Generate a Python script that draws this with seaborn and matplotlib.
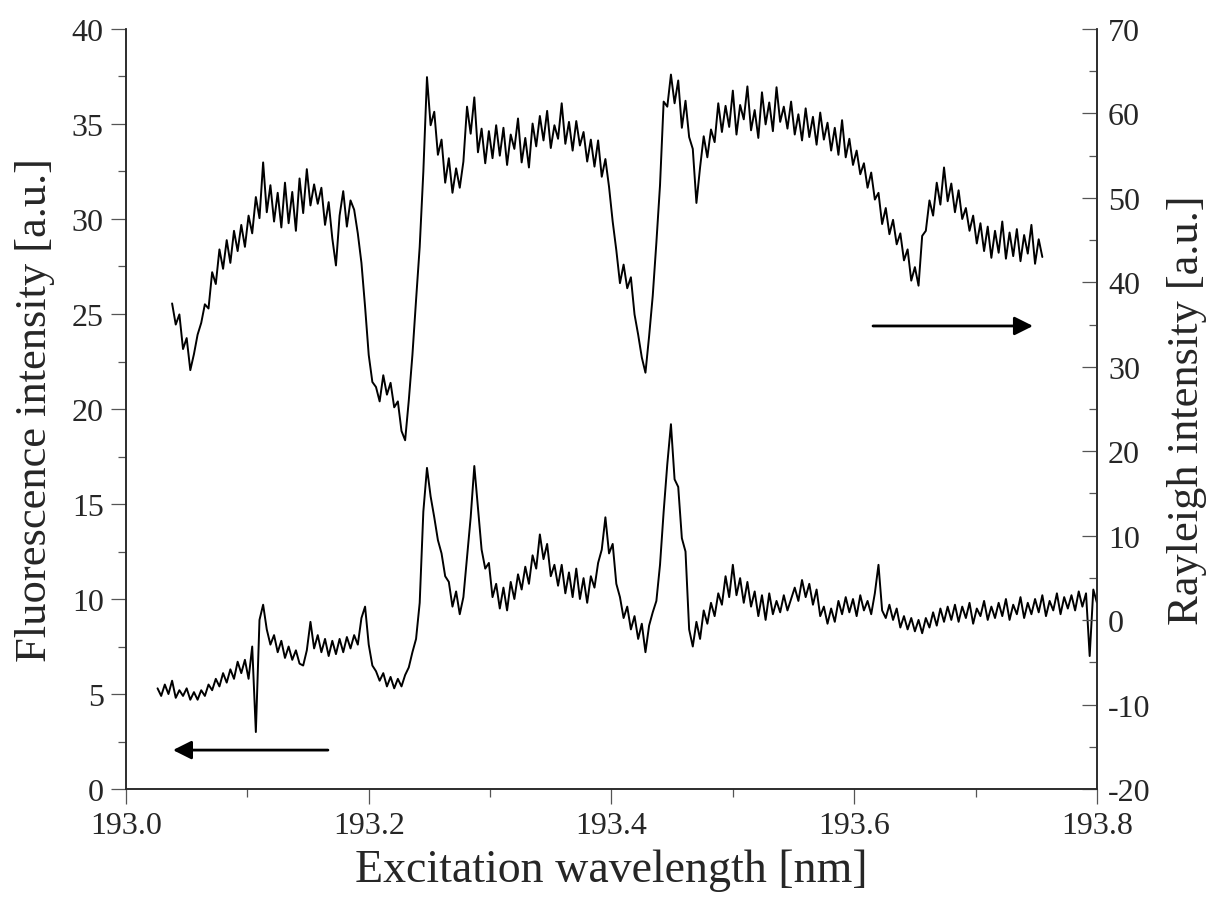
import numpy as np
import pandas as pd
import matplotlib
matplotlib.use("Agg")
import matplotlib.pyplot as plt
from matplotlib.ticker import MultipleLocator
import seaborn as sns

# ---------------- data ----------------
# Rayleigh signal (right axis), sampled every 0.003 nm from 193.038 nm
rayleigh_start = 193.038
rayleigh_step = 0.003
rayleigh = [
    37.5, 35.0, 36.2, 32.1, 33.4, 29.6, 31.5, 33.8, 35.2, 37.4,
    36.9, 41.2, 39.8, 43.9, 41.6, 45.0, 42.3, 46.1, 43.7, 46.8,
    44.2, 47.9, 45.8, 50.1, 47.6, 54.2, 48.3, 51.5, 47.2, 50.6,
    46.5, 51.8, 47.0, 50.7, 46.1, 52.3, 48.2, 53.4, 49.1, 51.6,
    49.3, 51.2, 46.8, 49.5, 45.2, 42.0, 47.9, 50.8, 46.6, 49.7,
    48.6, 45.8, 42.3, 37.1, 31.4, 28.2, 27.6, 25.9, 29.0, 26.7,
    28.1, 25.2, 25.9, 22.4, 21.3, 26.0, 31.4, 37.9, 44.2, 53.1,
    64.3, 58.6, 60.2, 55.1, 56.9, 51.8, 54.7, 50.6, 53.5, 51.2,
    54.3, 60.8, 57.6, 61.9, 55.4, 58.2, 54.1, 57.9, 54.7, 58.6,
    55.0, 58.3, 53.9, 57.5, 55.8, 59.4, 54.2, 57.1, 53.6, 58.8,
    56.1, 59.7, 56.8, 60.3, 55.9, 58.6, 57.0, 61.2, 56.4, 59.0,
    55.6, 59.1, 56.2, 57.8, 54.3, 56.9, 53.7, 56.8, 52.5, 54.6,
    51.3, 47.2, 43.8, 39.9, 42.1, 39.3, 40.6, 36.2, 33.8, 31.1,
    29.3, 33.6, 38.4, 44.7, 51.5, 61.4, 60.8, 64.6, 61.2, 63.9,
    58.3, 61.5, 57.2, 55.8, 49.4, 53.6, 57.3, 54.8, 58.1, 56.6,
    61.2, 57.8, 60.9, 58.4, 62.7, 57.5, 61.0, 59.3, 63.2, 58.0,
    60.4, 57.1, 62.5, 58.7, 61.3, 57.9, 63.1, 59.0, 60.8, 58.2,
    61.4, 57.5, 59.9, 56.8, 60.6, 57.2, 59.6, 56.3, 60.1, 56.9,
    58.9, 55.6, 58.3, 55.1, 59.2, 54.8, 57.0, 53.9, 55.6, 52.8,
    54.1, 51.2, 53.0, 49.8, 50.6, 46.9, 48.8, 45.7, 47.4, 44.5,
    45.8, 42.6, 43.9, 40.2, 41.8, 39.6, 45.5, 46.1, 49.7, 47.9,
    51.8, 49.2, 53.6, 49.6, 51.7, 48.3, 50.9, 47.5, 48.8, 46.1,
    47.9, 44.6, 47.0, 43.7, 46.6, 42.9, 46.1, 43.5, 47.2, 42.8,
    45.9, 43.1, 46.3, 42.5, 45.6, 43.4, 46.8, 42.2, 45.1, 43.0,
]

# Fluorescence signal (left axis), sampled every 0.003 nm from 193.026 nm
fluor_start = 193.026
fluor_step = 0.003
fluorescence = [
    5.3, 4.9, 5.5, 5.0, 5.7, 4.8, 5.2, 4.9, 5.3, 4.7,
    5.1, 4.7, 5.2, 4.9, 5.5, 5.2, 5.8, 5.4, 6.1, 5.6,
    6.3, 5.8, 6.7, 6.1, 6.8, 5.8, 7.5, 3.0, 8.9, 9.7,
    8.4, 7.6, 8.1, 7.2, 7.8, 6.9, 7.5, 6.8, 7.3, 6.6,
    6.5, 7.3, 8.8, 7.4, 8.1, 7.2, 7.9, 7.0, 7.8, 7.1,
    7.9, 7.2, 8.0, 7.4, 8.1, 7.6, 9.0, 9.6, 7.6, 6.5,
    6.2, 5.7, 6.1, 5.4, 5.9, 5.3, 5.8, 5.4, 6.0, 6.4,
    7.2, 7.9, 9.8, 14.6, 16.9, 15.4, 14.3, 13.1, 12.4, 11.2,
    10.9, 9.6, 10.4, 9.2, 10.1, 12.2, 14.3, 17.0, 14.8, 12.6,
    11.6, 11.9, 10.1, 10.8, 9.5, 10.6, 9.4, 10.9, 10.0, 11.3,
    10.5, 11.7, 10.8, 12.3, 11.6, 13.4, 12.1, 12.9, 11.2, 11.8,
    10.7, 11.8, 10.3, 11.4, 10.1, 11.6, 10.0, 11.1, 9.8, 11.2,
    10.6, 11.9, 12.6, 14.3, 12.4, 12.9, 10.8, 10.1, 9.0, 9.6,
    8.4, 9.1, 7.9, 8.7, 7.2, 8.6, 9.3, 9.9, 11.8, 14.6,
    17.1, 19.2, 16.3, 15.9, 13.2, 12.5, 8.4, 7.5, 8.8, 7.9,
    9.4, 8.7, 9.8, 9.1, 10.3, 9.7, 11.2, 10.1, 11.8, 10.2,
    11.1, 9.8, 10.9, 9.6, 10.4, 9.1, 10.2, 8.9, 10.3, 9.2,
    9.9, 9.3, 10.2, 9.4, 10.0, 10.6, 9.9, 11.0, 10.1, 10.8,
    9.7, 10.5, 9.1, 9.6, 8.7, 9.5, 8.8, 9.9, 9.2, 10.1,
    9.3, 10.0, 9.1, 10.2, 9.4, 9.9, 9.2, 10.3, 11.8, 9.4,
    9.0, 9.7, 8.9, 9.5, 8.5, 9.1, 8.4, 9.0, 8.3, 8.9,
    8.2, 9.0, 8.5, 9.3, 8.6, 9.5, 8.8, 9.6, 8.9, 9.7,
    8.8, 9.6, 9.0, 9.8, 8.7, 9.5, 9.1, 9.9, 8.9, 9.6,
    9.0, 9.8, 9.1, 10.0, 8.9, 9.7, 9.2, 10.1, 9.0, 9.8,
    9.2, 10.0, 9.3, 10.2, 9.1, 9.9, 9.4, 10.3, 9.2, 10.1,
    9.5, 10.2, 9.4, 10.4, 9.6, 10.3, 7.0, 10.5, 9.8,
]

x_ticks = [193.0, 193.2, 193.4, 193.6, 193.8]
x_tick_labels = ["193.0", "193.2", "193.4", "193.6", "193.8"]
left_ticks = [0, 5, 10, 15, 20, 25, 30, 35, 40]
right_ticks = [-20, -10, 0, 10, 20, 30, 40, 50, 60, 70]

x_label = "Excitation wavelength [nm]"
left_label = "Fluorescence intensity [a.u.]"
right_label = "Rayleigh intensity [a.u.]"

# arrows (start, end) in data coordinates of the left axis
arrow_fluor = ((193.1664, 2.05), (193.0387, 2.05))
arrow_rayl = ((193.6155, 24.37), (193.7473, 24.37))

# ---------------- build frames ----------------
df_r = pd.DataFrame({
    "wl": np.linspace(rayleigh_start,
                      rayleigh_start + rayleigh_step * (len(rayleigh) - 1),
                      len(rayleigh)),
    "val": rayleigh,
})
df_f = pd.DataFrame({
    "wl": np.linspace(fluor_start,
                      fluor_start + fluor_step * (len(fluorescence) - 1),
                      len(fluorescence)),
    "val": fluorescence,
})

# ---------------- plot ----------------
sns.set_style("ticks")
plt.rcParams["font.family"] = ["Liberation Serif", "DejaVu Serif"]
plt.rcParams["axes.linewidth"] = 1.1
plt.rcParams["axes.unicode_minus"] = False

fig = plt.figure(figsize=(12.16, 9.03), dpi=100)
ax = fig.add_axes([0.1036, 0.1251, 0.7985, 0.8417])
ax2 = ax.twinx()

sns.lineplot(data=df_f, x="wl", y="val", ax=ax, color="black",
             lw=1.4, estimator=None, sort=False)
sns.lineplot(data=df_r, x="wl", y="val", ax=ax2, color="black",
             lw=1.4, estimator=None, sort=False)

ax.set_xlim(193.0, 193.8)
ax.set_ylim(0, 40)
ax2.set_ylim(-20, 70)

ax.set_xticks(x_ticks)
ax.set_xticklabels(x_tick_labels)
ax.xaxis.set_minor_locator(MultipleLocator(0.1))
ax.set_yticks(left_ticks)
ax.yaxis.set_minor_locator(MultipleLocator(2.5))
ax2.set_yticks(right_ticks)
ax2.yaxis.set_minor_locator(MultipleLocator(5))

for a in (ax, ax2):
    a.spines["top"].set_visible(False)
    a.grid(False)

ax.tick_params(axis="both", which="major", direction="out", length=11,
               width=0.9, color="#555555", labelsize=23, pad=5)
ax.tick_params(axis="both", which="minor", direction="out", length=5.5,
               width=0.9, color="#555555")
ax.tick_params(axis="y", which="both", right=False)
ax2.tick_params(axis="y", which="major", direction="in", length=11,
                width=0.9, color="#555555", labelsize=23, pad=8)
ax2.tick_params(axis="y", which="minor", direction="in", length=5.5,
                width=0.9, color="#555555")

ax.set_xlabel(x_label, fontsize=33, labelpad=6)
ax.set_ylabel(left_label, fontsize=32, labelpad=12)
ax2.set_ylabel(right_label, fontsize=32, labelpad=12)

for (s, e) in (arrow_fluor, arrow_rayl):
    ax.annotate("", xy=e, xytext=s,
                arrowprops=dict(arrowstyle="-|>", color="black", lw=2.0,
                                mutation_scale=28, shrinkA=0, shrinkB=0))

fig.savefig("out.png", dpi=100)
